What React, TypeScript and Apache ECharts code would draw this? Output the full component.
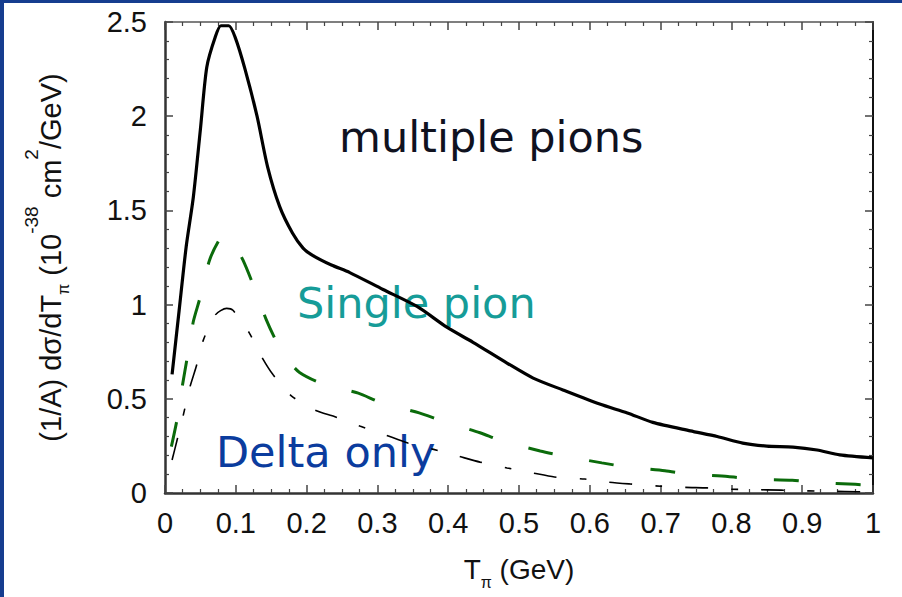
import React, { useEffect, useRef } from "react";
import * as echarts from "echarts";

// T_pi (GeV) vs (1/A) dsigma/dT_pi
const multiplePions: [number, number][] = [
  [0.01, 0.63], [0.02, 0.97], [0.03, 1.31], [0.04, 1.57], [0.05, 1.93], [0.059, 2.26],
  [0.071, 2.42], [0.079, 2.48], [0.09, 2.48], [0.099, 2.42], [0.113, 2.25], [0.13, 2.0],
  [0.145, 1.73], [0.162, 1.52], [0.18, 1.38], [0.195, 1.3], [0.209, 1.26], [0.235, 1.21],
  [0.261, 1.17], [0.308, 1.08], [0.356, 0.99], [0.398, 0.88], [0.435, 0.8], [0.483, 0.69],
  [0.52, 0.61], [0.562, 0.547], [0.614, 0.472], [0.653, 0.425], [0.689, 0.375], [0.742, 0.33],
  [0.78, 0.3], [0.816, 0.265], [0.85, 0.249], [0.887, 0.244], [0.921, 0.228], [0.953, 0.202],
  [1.0, 0.186],
];

const singlePion: [number, number][] = [
  [0.009, 0.246], [0.017, 0.39], [0.025, 0.58], [0.031, 0.71], [0.04, 0.91], [0.049, 1.03],
  [0.063, 1.237], [0.078, 1.352], [0.086, 1.365], [0.095, 1.34], [0.11, 1.237], [0.124, 1.11],
  [0.143, 0.92], [0.158, 0.8], [0.175, 0.7], [0.19, 0.64], [0.222, 0.58], [0.273, 0.53],
  [0.306, 0.478], [0.359, 0.425], [0.393, 0.38], [0.445, 0.32], [0.473, 0.28], [0.53, 0.223],
  [0.564, 0.196], [0.617, 0.16], [0.653, 0.138], [0.706, 0.118], [0.742, 0.1], [0.795, 0.087],
  [0.83, 0.074], [0.886, 0.068], [0.921, 0.056], [0.975, 0.046], [1.0, 0.04],
];

const deltaOnly: [number, number][] = [
  [0.01, 0.175], [0.017, 0.28], [0.025, 0.4], [0.035, 0.56], [0.044, 0.67], [0.054, 0.81],
  [0.071, 0.945], [0.087, 0.98], [0.096, 0.97], [0.119, 0.85], [0.137, 0.72], [0.153, 0.626],
  [0.178, 0.517], [0.212, 0.44], [0.24, 0.405], [0.275, 0.355], [0.31, 0.31], [0.343, 0.265],
  [0.378, 0.233], [0.414, 0.196], [0.445, 0.164], [0.483, 0.133], [0.52, 0.106], [0.55, 0.085],
  [0.593, 0.074], [0.626, 0.058], [0.657, 0.048], [0.7, 0.036], [0.735, 0.03], [0.766, 0.027],
  [0.8, 0.02], [0.83, 0.018], [0.87, 0.015], [0.92, 0.01], [0.96, 0.008], [1.0, 0.005],
];

const xRange = { min: 0, max: 1, interval: 0.1 };
const yRange = { min: 0, max: 2.5, interval: 0.5 };

const LABEL_FONT = '"Liberation Sans", Arial, sans-serif';
const ANN_FONT = '"DejaVu Sans", sans-serif';

const makeRich = (size: number) => ({
  m: { fontSize: size, fontFamily: LABEL_FONT, color: "#111", lineHeight: 30, verticalAlign: "top", padding: [14, 0, 0, 0] },
  s: { fontSize: 16, fontFamily: LABEL_FONT, color: "#111", lineHeight: 16, verticalAlign: "top", padding: [33, 0, 0, 0] },
  p: { fontSize: 19, fontFamily: LABEL_FONT, color: "#111", lineHeight: 19, verticalAlign: "top" },
});

export default function App() {
  const ref = useRef<HTMLDivElement>(null);
  useEffect(() => {
    if (!ref.current) return;
    const chart = echarts.init(ref.current, null, { renderer: "svg" });
    const tickStyle = { color: "#444", width: 1.5 };
    const baseX = {
      type: "value",
      ...xRange,
      splitLine: { show: false },
      axisTick: { show: true, inside: true, length: 8, lineStyle: tickStyle },
      minorTick: { show: true, splitNumber: 4, length: 4, lineStyle: { color: "#444", width: 1.2 } },
    };
    const baseY = {
      type: "value",
      ...yRange,
      splitLine: { show: false },
      axisTick: { show: true, inside: true, length: 8, lineStyle: tickStyle },
      minorTick: { show: true, splitNumber: 5, length: 4, lineStyle: { color: "#444", width: 1.2 } },
    };
    const option: any = {
      animation: false,
      backgroundColor: "#fff",
      grid: { left: 165, right: 29, top: 22, bottom: 104, outerBoundsMode: "none", containLabel: false },
      xAxis: [
        {
          ...baseX,
          position: "bottom",
          axisLine: { show: true, onZero: false, lineStyle: { color: "#333", width: 2.5 } },
          axisLabel: { margin: 15, fontSize: 29, fontFamily: LABEL_FONT, color: "#111" },
          name: "{m|T}{s|π}{m| (GeV)}",
          nameLocation: "middle",
          nameGap: 45,
          nameTextStyle: { rich: makeRich(28) },
        },
        {
          ...baseX,
          position: "top",
          axisLine: { show: true, onZero: false, lineStyle: { color: "#555", width: 1.5 } },
          axisLabel: { show: false },
        },
      ],
      yAxis: [
        {
          ...baseY,
          position: "left",
          axisLine: { show: true, onZero: false, lineStyle: { color: "#333", width: 2.5 } },
          axisLabel: { margin: 18, fontSize: 29, fontFamily: LABEL_FONT, color: "#111" },
          name: "{m|(1/A) dσ/dT}{s|π}{m| (10}{p|-38}{m| cm}{p|2}{m|/GeV)}",
          nameLocation: "middle",
          nameRotate: 90,
          nameGap: 113,
          nameTextStyle: { rich: makeRich(29) },
        },
        {
          ...baseY,
          position: "right",
          axisLine: { show: true, onZero: false, lineStyle: { color: "#111", width: 2 } },
          axisLabel: { show: false },
        },
      ],
      series: [
        {
          name: "multiple pions",
          type: "line",
          data: multiplePions,
          showSymbol: false,
          smooth: 0.25,
          lineStyle: { color: "#000", width: 3.2 },
        },
        {
          name: "Single pion",
          type: "line",
          data: singlePion,
          showSymbol: false,
          smooth: 0.25,
          lineStyle: { color: "#0b6b0b", width: 3, type: [25, 37] },
        },
        {
          name: "Delta only",
          type: "line",
          data: deltaOnly,
          showSymbol: false,
          smooth: 0.25,
          lineStyle: { color: "#000", width: 1.6, type: [23, 23, 7, 23] },
        },
      ],
      graphic: [
        {
          type: "text", x: 339, y: 137,
          style: { text: "multiple pions", font: `43px ${ANN_FONT}`, fill: "#10121f", textAlign: "left", textVerticalAlign: "middle", align: "left", verticalAlign: "middle" },
        },
        {
          type: "text", x: 297, y: 303,
          style: { text: "Single pion", font: `43px ${ANN_FONT}`, fill: "#169c98", textAlign: "left", textVerticalAlign: "middle", align: "left", verticalAlign: "middle" },
        },
        {
          type: "text", x: 216, y: 452,
          style: { text: "Delta only", font: `43px ${ANN_FONT}`, fill: "#0b3c9e", textAlign: "left", textVerticalAlign: "middle", align: "left", verticalAlign: "middle" },
        },
      ],
    };
    chart.setOption(option);
    return () => chart.dispose();
  }, []);
  return (
    <div style={{ position: "fixed", left: 0, top: 0, width: 902, height: 597, background: "#fff", overflow: "hidden" }}>
      <div ref={ref} style={{ position: "absolute", left: 0, top: 0, width: 902, height: 597 }} />
      <div style={{ position: "absolute", left: 0, top: 0, width: 4, height: 597, background: "#163d8f" }} />
      <div style={{ position: "absolute", left: 0, top: 0, width: 902, height: 3, background: "#163d8f" }} />
    </div>
  );
}
